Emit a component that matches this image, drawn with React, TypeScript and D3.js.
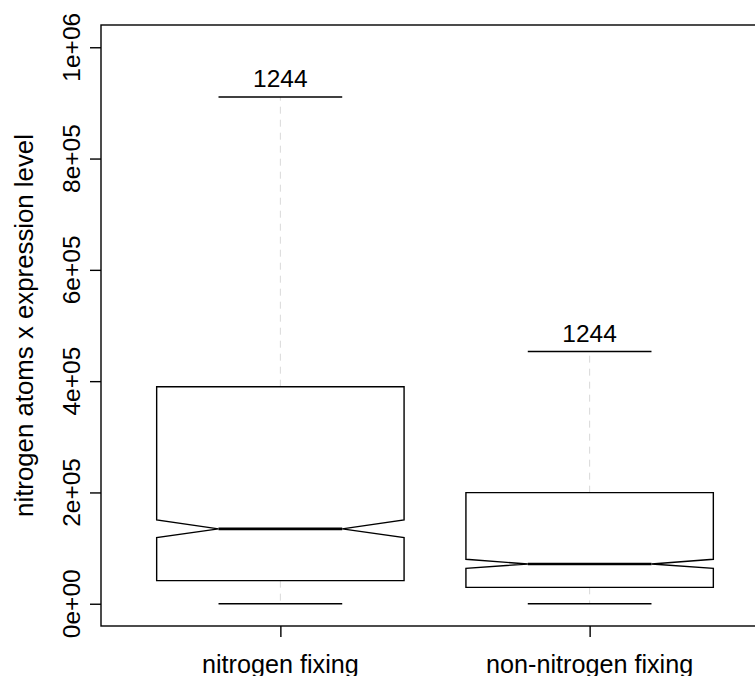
import React, { useEffect, useRef } from 'react';
import * as d3 from 'd3';

const groups = ['nitrogen fixing', 'non-nitrogen fixing'];
const counts = [1244, 1244];
const whiskerLow = [0, 0];
const q1 = [41500, 29500];
const notchLow = [119000, 63700];
const median = [134500, 71500];
const notchHigh = [150800, 79900];
const q3 = [390000, 199600];
const whiskerHigh = [910800, 453200];
const yTicks = [0, 200000, 400000, 600000, 800000, 1000000];
const yTickLabels = ['0e+00', '2e+05', '4e+05', '6e+05', '8e+05', '1e+06'];

const App = () => {
  const svgRef = useRef<SVGSVGElement>(null);

  useEffect(() => {
    const width = 755;
    const height = 676;
    const font = '"Liberation Sans", Arial, Helvetica, sans-serif';
    const fs = 24.5;
    const svg = d3.select(svgRef.current);
    svg.selectAll('*').remove();
    svg.attr('width', width).attr('height', height);

    // R style extended ranges (4% padding)
    const x = d3.scaleLinear().domain([0.42, 2.58]).range([101, 769]);
    const y = d3.scaleLinear().domain([-40000, 1040000]).range([626, 25]);
    const hw = 0.4;

    const data = groups.map((g, i) => ({
      name: g,
      pos: i + 1,
      n: counts[i],
      lo: whiskerLow[i],
      q1: q1[i],
      nl: notchLow[i],
      med: median[i],
      nh: notchHigh[i],
      q3: q3[i],
      hi: whiskerHigh[i]
    }));

    const plot = svg.append('g');

    // whiskers
    data.forEach(d => {
      plot.append('line')
        .attr('x1', x(d.pos)).attr('x2', x(d.pos))
        .attr('y1', y(d.q3)).attr('y2', y(d.hi))
        .attr('stroke', '#d9d9d9').attr('stroke-width', 1)
        .attr('stroke-dasharray', '7,6');
      plot.append('line')
        .attr('x1', x(d.pos)).attr('x2', x(d.pos))
        .attr('y1', y(d.q1)).attr('y2', y(d.lo))
        .attr('stroke', '#d9d9d9').attr('stroke-width', 1)
        .attr('stroke-dasharray', '7,6');
      [d.lo, d.hi].forEach(v => {
        plot.append('line')
          .attr('x1', x(d.pos - hw / 2)).attr('x2', x(d.pos + hw / 2))
          .attr('y1', y(v)).attr('y2', y(v))
          .attr('stroke', '#000').attr('stroke-width', 1.5);
      });
    });

    // notched boxes
    data.forEach(d => {
      const pts: [number, number][] = [
        [d.pos - hw, d.q1], [d.pos - hw, d.nl], [d.pos - hw / 2, d.med],
        [d.pos - hw, d.nh], [d.pos - hw, d.q3], [d.pos + hw, d.q3],
        [d.pos + hw, d.nh], [d.pos + hw / 2, d.med], [d.pos + hw, d.nl],
        [d.pos + hw, d.q1]
      ];
      plot.append('path')
        .attr('d', d3.line<[number, number]>().x(p => x(p[0])).y(p => y(p[1]))(pts) + 'Z')
        .attr('fill', 'white').attr('stroke', '#000').attr('stroke-width', 1.4)
        .attr('stroke-linejoin', 'miter');
      plot.append('line')
        .attr('x1', x(d.pos - hw / 2)).attr('x2', x(d.pos + hw / 2))
        .attr('y1', y(d.med)).attr('y2', y(d.med))
        .attr('stroke', '#000').attr('stroke-width', 2.6);
      plot.append('text')
        .attr('x', x(d.pos)).attr('y', y(d.hi) - 9.5)
        .attr('text-anchor', 'middle')
        .style('font-family', font).style('font-size', fs + 'px')
        .text(d.n);
    });

    // frame
    plot.append('rect')
      .attr('x', x(0.42)).attr('y', y(1040000))
      .attr('width', x(2.58) - x(0.42)).attr('height', y(-40000) - y(1040000))
      .attr('fill', 'none').attr('stroke', '#000').attr('stroke-width', 1.4);

    // y axis
    const yAxis = svg.append('g').attr('transform', `translate(${x(0.42)},0)`)
      .call(d3.axisLeft(y).tickValues(yTicks).tickSize(11).tickFormat(() => ''));
    yAxis.select('.domain').remove();
    yAxis.selectAll('line').attr('stroke', '#000').attr('stroke-width', 1.4);
    yTicks.forEach((t, i) => {
      svg.append('text')
        .attr('transform', `translate(79.5,${y(t)}) rotate(-90)`)
        .attr('text-anchor', 'middle')
        .style('font-family', font).style('font-size', fs + 'px')
        .text(yTickLabels[i]);
    });

    // x axis
    const xAxis = svg.append('g').attr('transform', `translate(0,${y(-40000)})`)
      .call(d3.axisBottom(x).tickValues([1, 2]).tickSize(11).tickFormat(() => ''));
    xAxis.select('.domain').remove();
    xAxis.selectAll('line').attr('stroke', '#000').attr('stroke-width', 1.4);
    data.forEach(d => {
      svg.append('text')
        .attr('x', x(d.pos)).attr('y', 672.5)
        .attr('text-anchor', 'middle')
        .style('font-family', font).style('font-size', '25.2px')
        .text(d.name);
    });

    // y title
    svg.append('text')
      .attr('transform', `translate(32.7,${(y(-40000) + y(1040000)) / 2}) rotate(-90)`)
      .attr('text-anchor', 'middle')
      .style('font-family', font).style('font-size', '25.8px')
      .text('nitrogen atoms x expression level');
  }, []);

  return (
    <div style={{ position: 'absolute', left: 0, top: 0 }}>
      <svg ref={svgRef} style={{ display: 'block' }}></svg>
    </div>
  );
};

export default App;
